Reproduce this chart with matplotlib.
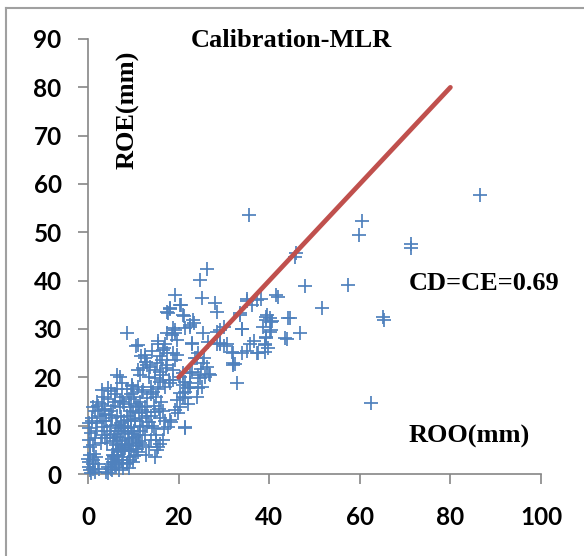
import matplotlib
matplotlib.use("Agg")
import matplotlib.pyplot as plt
from matplotlib.lines import Line2D

# ---- data ----
roo = [
    # outliers / upper part
    86.6, 35.5, 60.4, 59.9, 71.3, 71.3, 46.0, 45.8, 26.2, 24.7, 47.9, 57.5, 42.0, 38.3,
    51.6, 44.2, 40.2, 39.4, 40.5, 38.7, 40.2, 46.8, 43.5, 39.4, 39.1, 39.8, 39.1, 65.1,
    65.3, 62.4, 32.8, 21.4,
    # zoom 8 region
    25.1, 19.2, 20.3, 18.1, 21.0, 23.2, 22.5, 19.2, 21.4, 28.0, 28.4, 35.0, 37.2, 36.1,
    39.4, 33.6, 33.9, 29.1, 17.4,
    # zoom 7 region
    18.5, 19.6, 22.9, 25.4, 29.1, 31.7, 32.0, 37.6, 39.1, 19.6, 19.2, 24.0, 25.4, 26.9,
    25.8, 24.7, 22.5, 21.0, 21.4, 18.8, 18.1, 19.6, 21.4, 20.3, 19.2, 18.1, 21.4, 18.8,
    21.0,
    # mid band
    8.5, 11.1, 12.6, 12.9, 15.5, 17.4, 18.8, 16.6, 16.3, 17.4, 15.9, 13.7, 14.8, 16.6,
    20.3, 21.4, 22.1, 24.3, 26.2, 23.6, 24.3, 20.3, 19.9, 17.7, 15.9, 15.2, 14.8, 32.1,
    32.1, 33.9, 35.8, 40.5, 39.4, 41.6, 35.0, 33.6, 30.6, 28.4, 26.6, 28.4, 22.9, 25.1,
    24.0, 22.5, 6.3, 7.5, 4.4, 3.1, 9.7, 12.1, 14.3, 17.7, 18.8, 19.2,
    43.9, 34.1, 37.4, 35.0, 36.6, 30.0, 29.2, 30.0, 23.0, 25.5, 25.0, 26.7, 24.2, 22.6,
    20.9, 22.1, 18.4, 16.8, 15.1, 23.4, 22.6, 21.3, 20.5, 18.0, 44.5, 40.7, 39.6, 32.5,
    # dense lower-left (A)
    0.2, 0.3, 0.5, 0.4, 0.2, 0.6, 0.3, 1.0, 1.2, 1.0, 1.5, 1.8, 2.0, 2.2, 2.8, 3.0,
    3.2, 0.8, 2.6, 1.5, 0.1, 0.7, 3.5, 1.3,
    # (B)
    4.0, 4.5, 5.0, 5.5, 6.0, 4.2, 4.8, 5.0, 5.2, 4.6, 5.5, 4.5, 6.0, 5.0, 7.0, 6.5, 7.5,
    3.8, 3.5, 6.5, 6.8, 7.0, 7.2, 7.5, 6.5, 6.2, 5.8, 7.8, 8.0, 8.0, 7.7, 8.0, 6.9, 4.0,
    3.8, 5.5, 7.3, 6.0, 7.0, 8.5,
    # (C)
    8.5, 9.0, 9.5, 10.0, 10.5, 11.0, 11.5, 12.0, 9.0, 8.8, 9.5, 10.0, 10.5, 9.0, 10.0,
    11.0, 9.7, 12.0, 11.5, 12.5, 12.8, 13.0, 12.5, 12.0, 11.0, 10.0, 9.0, 11.5, 12.2,
    11.8, 12.5, 13.0, 10.5, 11.0, 9.2, 8.7, 10.2, 11.3, 12.7, 13.0,
    # (D)
    13.5, 14.0, 14.5, 15.0, 15.5, 16.5, 14.0, 14.5, 15.0, 15.5, 16.0, 16.5, 14.0, 13.5,
    14.8, 15.2, 16.0, 16.8, 15.5, 17.0, 17.5, 17.2, 17.8, 17.0, 16.2, 16.5, 17.0, 15.8,
    13.8, 14.2,
    # (E) extra points of the solid lower-left mass
    0.5, 1.0, 1.8, 2.4, 0.3, 0.9, 1.6, 2.2, 3.0, 3.6, 5.2, 6.0, 6.7, 7.4, 8.2, 9.0,
    9.8, 10.6, 11.4, 12.2, 5.8, 6.6, 7.3, 8.1, 8.9, 9.6, 10.4, 11.2, 12.0, 13.0, 6.2,
    7.0, 7.8, 8.6, 9.4, 10.2, 11.0, 13.5, 14.2, 14.9, 15.6, 4.2, 5.0, 6.0, 3.0, 2.0,
    1.0,
    # (F) more of the solid mass near the origin
    4.5, 5.3, 6.1, 6.9, 7.7, 8.5, 9.3, 10.1, 10.9, 5.0, 5.8, 6.6, 7.4, 8.2, 9.0, 9.8,
    10.6, 11.4, 5.6, 5.6, 6.4, 7.2, 8.0, 8.8, 9.6, 10.4,
]
roe = [
    57.8, 53.6, 52.3, 49.4, 47.6, 46.8, 45.7, 44.8, 42.4, 40.1, 38.8, 39.1, 36.7, 36.3,
    34.3, 32.2, 32.2, 31.9, 31.5, 30.5, 29.4, 29.1, 28.1, 28.1, 27.0, 26.0, 25.3, 32.5,
    31.8, 14.6, 18.8, 9.5,
    36.4, 37.0, 35.0, 34.3, 32.9, 31.9, 30.8, 29.8, 30.2, 35.3, 33.6, 35.7, 36.0, 35.0,
    32.5, 32.9, 30.1, 29.8, 33.6,
    28.8, 27.7, 27.0, 29.2, 27.0, 25.3, 22.9, 25.0, 26.7, 24.6, 23.6, 23.9, 22.9, 20.5,
    20.1, 19.8, 18.1, 18.4, 17.0, 19.4, 18.8, 15.3, 15.7, 13.9, 13.2, 11.2, 9.8, 21.5,
    20.9,
    29.1, 26.7, 24.6, 23.2, 27.0, 29.1, 25.0, 25.7, 23.6, 22.6, 21.2, 22.2, 19.8, 19.4,
    20.1, 19.1, 17.7, 20.5, 22.2, 23.9, 25.0, 16.7, 12.6, 9.8, 6.3, 5.0, 3.6, 22.6,
    25.0, 25.0, 27.0, 29.8, 28.4, 37.0, 36.3, 33.3, 27.0, 29.4, 27.4, 27.0, 21.2, 18.1,
    16.0, 20.8, 20.5, 18.8, 17.8, 17.4, 18.4, 17.4, 17.0, 33.3, 30.2, 29.1,
    27.9, 30.1, 25.0, 25.4, 27.6, 26.5, 27.2, 30.5, 27.2, 23.9, 21.7, 20.6, 17.7, 18.8,
    15.9, 14.4, 10.8, 9.3, 7.1, 31.2, 30.5, 32.7, 34.9, 34.2, 32.3, 31.7, 32.8, 22.8,
    1.5, 2.5, 4.0, 5.5, 7.0, 8.5, 9.5, 1.0, 3.0, 6.0, 7.5, 9.0, 10.5, 2.0, 6.5, 8.0,
    11.0, 11.5, 12.0, 0.5, 3.2, 0.3, 9.8, 4.2,
    0.5, 1.5, 1.0, 2.5, 1.8, 6.5, 8.0, 10.0, 11.5, 12.3, 14.0, 15.5, 16.5, 17.2, 20.0,
    17.5, 16.0, 13.5, 16.0, 12.0, 9.5, 7.0, 5.0, 3.0, 4.0, 6.0, 3.5, 8.8, 11.0, 14.5,
    1.2, 4.8, 0.8, 11.0, 7.5, 5.0, 10.5, 8.2, 13.8, 17.5,
    2.0, 3.5, 5.0, 6.5, 4.0, 8.0, 10.0, 11.5, 7.5, 9.5, 11.0, 12.8, 14.5, 15.5, 17.5,
    18.0, 18.2, 17.0, 15.0, 13.8, 12.0, 10.0, 8.0, 6.0, 4.5, 2.5, 1.2, 20.5, 22.0, 24.5,
    24.0, 22.5, 26.5, 21.5, 13.0, 6.0, 9.0, 6.8, 4.0, 15.8,
    5.5, 7.0, 9.5, 8.0, 5.5, 7.0, 12.0, 14.0, 16.0, 17.5, 19.0, 20.5, 18.0, 20.0, 21.5,
    23.0, 24.5, 26.0, 27.5, 27.0, 25.0, 22.0, 19.5, 18.0, 15.0, 13.0, 11.0, 11.5, 16.5,
    25.5,
    0.8, 2.0, 3.5, 1.0, 10.5, 11.0, 13.0, 14.0, 13.2, 12.5, 3.2, 2.5, 4.5, 5.5, 6.8,
    4.8, 7.2, 5.8, 9.0, 9.8, 7.5, 8.8, 11.8, 9.6, 11.2, 13.8, 11.0, 12.6, 13.2, 12.8,
    10.2, 15.2, 15.0, 12.0, 16.5, 16.0, 14.0, 10.8, 10.0, 12.8, 13.5, 9.0, 13.0, 15.0,
    14.5, 15.0, 13.8,
    0.3, 0.9, 1.4, 2.2, 2.8, 2.2, 3.0, 3.8, 5.2, 2.0, 3.8, 5.2, 6.2, 5.4, 6.0, 8.2,
    7.6, 6.4, 4.0, 6.8, 7.6, 9.0, 10.0, 8.4, 9.8, 11.4,
]
line_x = [20, 80]
line_y = [20, 80]
x_ticks = [0, 20, 40, 60, 80, 100]
y_ticks = [0, 10, 20, 30, 40, 50, 60, 70, 80, 90]

blue = "#4F81BD"
red = "#C0504D"
grey = "#868686"

fig = plt.figure(figsize=(5.84, 5.56), dpi=100)
ax = fig.add_axes([88 / 584, (556 - 474) / 556, 453 / 584, 435 / 556])

ax.plot(roo, roe, linestyle="none", marker="+", markersize=10,
        markeredgewidth=1.25, color=blue, clip_on=False, zorder=3)
ax.plot(line_x, line_y, color=red, linewidth=3.4, solid_capstyle="round", zorder=4)

ax.set_xlim(0, 100)
ax.set_ylim(0, 90)
ax.set_xticks(x_ticks)
ax.set_yticks(y_ticks)
ax.set_xticklabels([str(v) for v in x_ticks])
ax.set_yticklabels([str(v) for v in y_ticks])

for s in ["top", "right"]:
    ax.spines[s].set_visible(False)
for s in ["left", "bottom"]:
    ax.spines[s].set_color(grey)
    ax.spines[s].set_linewidth(1.2)

ax.tick_params(axis="y", direction="out", length=7, width=1.2, color=grey, pad=12)
ax.tick_params(axis="x", direction="out", length=7, width=1.2, color=grey, pad=16)
for lab in ax.get_xticklabels() + ax.get_yticklabels():
    lab.set_fontfamily("Lato")
    lab.set_fontweight("bold")
    lab.set_fontsize(17.5)

serif = dict(family="Liberation Serif", fontweight="bold", fontsize=19)
ax.text(45.0, 88.4, "Calibration-MLR", ha="center", va="baseline", **serif)
ax.text(70.7, 38.0, "CD=CE=0.69", ha="left", va="baseline", **serif)
ax.text(70.7, 6.4, "ROO(mm)", ha="left", va="baseline", **serif)
ax.text(8.9, 75.3, "ROE(mm)", ha="center", va="center", rotation=90, **serif)

# figure frame (top and left edges visible)
fig.add_artist(Line2D([6 / 584, 1.0], [1 - 8 / 556, 1 - 8 / 556],
                      transform=fig.transFigure, color="#A0A0A0", linewidth=1.5))
fig.add_artist(Line2D([6 / 584, 6 / 584], [0.0, 1 - 8 / 556],
                      transform=fig.transFigure, color="#A0A0A0", linewidth=1.5))

fig.savefig("out.png", dpi=100)
